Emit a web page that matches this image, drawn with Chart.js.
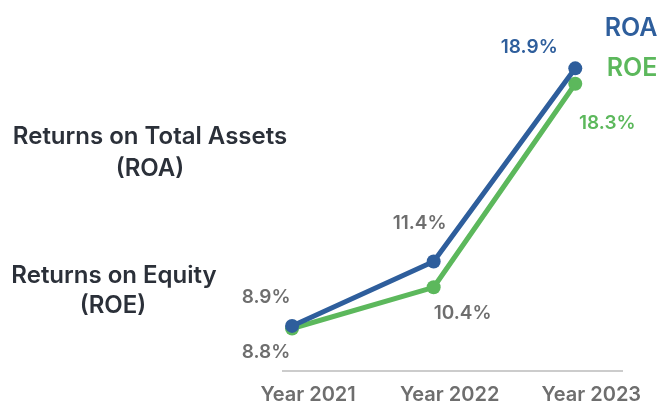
<!DOCTYPE html>
<html lang="en">
<head>
  <meta charset="utf-8" />
  <title>ROA / ROE</title>
  <script src="https://cdn.jsdelivr.net/npm/chart.js"></script>
  <style>
    html, body { margin: 0; padding: 0; background: #fff; }
    #wrap { width: 663px; height: 406px; }
  </style>
</head>
<body>
  <div id="wrap"><canvas id="roChart" width="663" height="406"></canvas></div>

  <script>
    // data
    const years = ['Year 2021', 'Year 2022', 'Year 2023'];
    const roa = [8.9, 11.4, 18.9];
    const roe = [8.8, 10.4, 18.3];

    const BLUE = '#2e5e9c';
    const GREEN = '#5cb85c';
    const GRAY = '#6e6e6e';
    const DARK = '#2b3039';
    const FONT = 'Inter, "Open Sans", sans-serif';

    // where each value label sits relative to its point (px)
    const roaLabelShift = [[-26, -29], [-14, -38], [-46, -21]];
    const roeLabelShift = [[-26, 24], [29, 26], [32, 39]];
    const roaLabelColor = [GRAY, GRAY, BLUE];
    const roeLabelColor = [GRAY, GRAY, GREEN];

    // value labels, side titles and the text legend
    const textPlugin = {
      id: 'textPlugin',
      afterDatasetsDraw(chart) {
        const ctx = chart.ctx;
        ctx.save();
        ctx.textAlign = 'center';
        ctx.textBaseline = 'middle';

        ctx.font = '600 19px ' + FONT;
        [[0, roa, roaLabelShift, roaLabelColor], [1, roe, roeLabelShift, roeLabelColor]].forEach(([di, vals, shift, cols]) => {
          chart.getDatasetMeta(di).data.forEach((pt, i) => {
            ctx.fillStyle = cols[i];
            ctx.fillText(vals[i].toFixed(1) + '%', pt.x + shift[i][0], pt.y + shift[i][1]);
          });
        });

        // side titles
        ctx.fillStyle = DARK;
        ctx.font = '600 24px ' + FONT;
        ctx.fillText('Returns on Total Assets', 150, 137);
        ctx.fillText('(ROA)', 150, 169);
        ctx.fillText('Returns on Equity', 114, 276);
        ctx.fillText('(ROE)', 113, 306);

        // legend
        ctx.font = '600 25px ' + FONT;
        ctx.fillStyle = BLUE;
        ctx.fillText('ROA', 631, 28);
        ctx.fillStyle = GREEN;
        ctx.fillText('ROE', 632, 68);
        ctx.restore();
      }
    };

    const ctx = document.getElementById('roChart').getContext('2d');
    new Chart(ctx, {
      type: 'line',
      data: {
        datasets: [{
          label: 'ROA',
          data: roa.map((v, i) => ({ x: i, y: v })),
          borderColor: BLUE,
          backgroundColor: BLUE,
          borderWidth: 5,
          pointRadius: 7,
          pointHoverRadius: 7,
          pointBorderWidth: 0,
          tension: 0
        }, {
          label: 'ROE',
          data: roe.map((v, i) => ({ x: i, y: v })),
          borderColor: GREEN,
          backgroundColor: GREEN,
          borderWidth: 5,
          pointRadius: 7,
          pointHoverRadius: 7,
          pointBorderWidth: 0,
          tension: 0
        }]
      },
      options: {
        responsive: false,
        animation: false,
        layout: { padding: { left: 283, right: 41, top: 40, bottom: -13 } },
        plugins: {
          legend: { display: false },
          tooltip: { enabled: false }
        },
        scales: {
          x: {
            type: 'linear',
            min: -0.064,
            max: 2.33,
            afterBuildTicks: (axis) => { axis.ticks = years.map((_, i) => ({ value: i })); },
            grid: { display: false, drawTicks: false },
            border: { display: true, color: '#cccccc', width: 2 },
            ticks: {
              autoSkip: false,
              maxRotation: 0,
              minRotation: 0,
              padding: 12,
              labelOffset: 16,
              color: GRAY,
              font: { family: FONT, size: 20, weight: '600' },
              callback: (v) => years[v] ?? ''
            }
          },
          y: {
            display: false,
            min: 7.15,
            max: 20
          }
        }
      },
      plugins: [textPlugin]
    });
  </script>
</body>
</html>
